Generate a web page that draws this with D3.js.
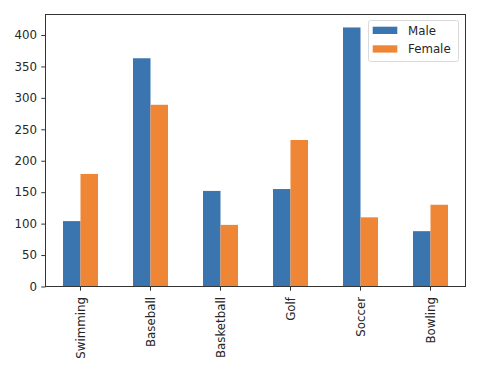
<!DOCTYPE html>
<html>
<head>
<meta charset="utf-8">
<script src="https://cdn.jsdelivr.net/npm/d3@7"></script>
<style>
  html, body { margin: 0; padding: 0; background: #fff; }
  svg { display: block; }
  text { font-family: "DejaVu Sans", sans-serif; }
</style>
</head>
<body>
<svg id="chart" width="482" height="369"></svg>
<script>
const categories = ["Swimming", "Baseball", "Basketball", "Golf", "Soccer", "Bowling"];
const seriesNames = ["Male", "Female"];
const maleValues = [104, 363, 152, 155, 412, 88];
const femaleValues = [179, 289, 98, 233, 110, 130];
const yTicks = [0, 50, 100, 150, 200, 250, 300, 350, 400];
const colors = ["#3a75af", "#ef8636"];

const svg = d3.select("#chart");
const mLeft = 45.5, mRight = 465.5, mTop = 14.5, mBottom = 286.5;
const maxV = d3.max(maleValues.concat(femaleValues));

const x = d3.scaleBand().domain(categories).range([mLeft, mRight]).paddingInner(0).paddingOuter(0);
const xs = d3.scaleBand().domain(seriesNames).range([0, x.bandwidth()]).paddingInner(0).paddingOuter(1);
const y = d3.scaleLinear().domain([0, maxV * 1.05]).range([mBottom, mTop]);

const series = [maleValues, femaleValues];
series.forEach((vals, si) => {
  svg.append("g").selectAll("rect").data(vals).join("rect")
    .attr("x", (d, i) => x(categories[i]) + xs(seriesNames[si]))
    .attr("y", d => y(d))
    .attr("width", xs.bandwidth())
    .attr("height", d => y(0) - y(d))
    .attr("fill", colors[si]);
});

const textColor = "#262626";
const axisColor = "#333";
const fs = "11.8px";

// y axis
const yAxis = svg.append("g").attr("transform", `translate(${mLeft},0)`)
  .call(d3.axisLeft(y).tickValues(yTicks).tickSize(4.2).tickPadding(4.2).tickSizeOuter(0));
yAxis.select(".domain").remove();
yAxis.selectAll("line").attr("stroke", axisColor).attr("stroke-width", 1);
yAxis.selectAll("text").attr("font-size", fs).attr("fill", textColor)
  .attr("font-family", "DejaVu Sans, sans-serif");

// x axis
const xAxis = svg.append("g").attr("transform", `translate(0,${mBottom})`)
  .call(d3.axisBottom(x).tickSize(4.2).tickSizeOuter(0));
xAxis.select(".domain").remove();
xAxis.selectAll("line").attr("stroke", axisColor).attr("stroke-width", 1);
xAxis.selectAll("text")
  .attr("font-size", fs).attr("fill", textColor)
  .attr("font-family", "DejaVu Sans, sans-serif")
  .attr("transform", "rotate(-90)")
  .attr("text-anchor", "end")
  .attr("x", -10.5).attr("y", 0).attr("dy", "0.35em");

// spines
svg.append("rect").attr("x", mLeft).attr("y", mTop).attr("width", mRight - mLeft).attr("height", mBottom - mTop)
  .attr("fill", "none").attr("stroke", axisColor).attr("stroke-width", 1);

// legend
const lg = svg.append("g");
lg.append("rect").attr("x", 368.5).attr("y", 20.5).attr("width", 90).attr("height", 41).attr("rx", 2)
  .attr("fill", "#fff").attr("fill-opacity", 0.8).attr("stroke", "#d0d0d0").attr("stroke-width", 0.8);
seriesNames.forEach((name, i) => {
  const yy = 26.7 + i * 18.6;
  lg.append("rect").attr("x", 372.7).attr("y", yy).attr("width", 24.6).attr("height", 7.3).attr("fill", colors[i]);
  lg.append("text").attr("x", 408).attr("y", yy + 3.8).attr("dy", "0.35em")
    .attr("font-size", fs).attr("fill", textColor).text(name);
});
</script>
</body>
</html>
